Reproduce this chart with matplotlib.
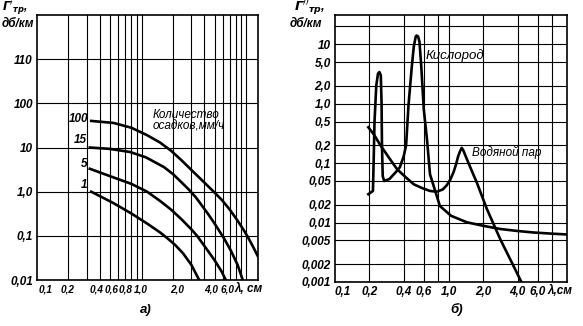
import numpy as np
import matplotlib
matplotlib.use("Agg")
import matplotlib.pyplot as plt

plt.rcParams['font.family'] = ['Liberation Sans', 'DejaVu Sans']
plt.rcParams['font.style'] = 'italic'
plt.rcParams['font.weight'] = 'bold'
plt.rcParams['mathtext.fontset'] = 'dejavusans'

# --- panel a: rain attenuation, curves for rain rate (mm/h)
rain_labels = ['100', '15', '5', '1']
lam_r100 = [0.33, 0.54, 0.8, 1.13, 1.5, 1.9, 2.4, 3.0, 4.0, 4.9, 5.9, 7.0, 8.3, 9.5, 10.4, 11.7, 13.0]
att_r100 = [40, 36, 28, 19, 13, 8.6, 5.2, 3.1, 1.6, 1.0, 0.64, 0.39, 0.22, 0.135, 0.094, 0.056, 0.034]
lam_r15 = [0.32, 0.5, 0.78, 1.1, 1.64, 2.0, 2.4, 2.8, 3.3, 3.7, 4.3, 5.0, 6.2, 7.2, 8.3, 9.3]
att_r15 = [10, 9.3, 7.9, 6.0, 3.6, 2.5, 1.65, 1.15, 0.75, 0.52, 0.32, 0.19, 0.085, 0.045, 0.022, 0.01]
lam_r5 = [0.32, 0.54, 0.8, 1.13, 1.5, 1.9, 2.4, 3.0, 3.4, 4.2, 5.0, 5.8, 6.4]
att_r5 = [3.3, 2.1, 1.5, 1.0, 0.62, 0.4, 0.24, 0.14, 0.1, 0.05, 0.028, 0.016, 0.01]
lam_r1 = [0.33, 0.54, 0.8, 1.13, 1.5, 1.77, 2.1, 2.5, 3.0, 3.56]
att_r1 = [1.0, 0.55, 0.32, 0.19, 0.12, 0.088, 0.062, 0.04, 0.022, 0.01]

a_xticks = [0.1, 0.2, 0.4, 0.6, 0.8, 1.0, 2.0, 4.0, 6.0]
a_xlabels = ['0,1', '0,2', '0,4', '0,6', '0,8', '1,0', '2,0', '4,0', '6,0']
a_yticks = [0.01, 0.1, 1, 10, 100, 1000]
a_ylabels = ['0,01', '0,1', '1,0', '10', '100', '110']

# --- panel b: oxygen and water vapour
lam_o2 = [0.196, 0.215, 0.218, 0.222, 0.23, 0.238, 0.245, 0.252, 0.256, 0.258, 0.262,
          0.27, 0.3, 0.34, 0.37, 0.4, 0.42, 0.44, 0.47, 0.49, 0.51, 0.52, 0.535, 0.55,
          0.57, 0.6, 0.64, 0.68, 0.73, 0.83, 1.04, 1.43, 2.0, 2.8, 4.0, 5.5, 8.0, 10.8]
att_o2 = [0.03, 0.034, 0.1, 0.5, 2.0, 3.2, 3.4, 3.0, 1.0, 0.2, 0.06,
          0.05, 0.054, 0.07, 0.085, 0.13, 0.2, 0.9, 4.0, 9.0, 13.5, 14.0, 13.5, 11.0,
          4.3, 0.8, 0.25, 0.065, 0.042, 0.019, 0.013, 0.0101, 0.0088, 0.0078, 0.0072,
          0.0068, 0.0065, 0.0063]
lam_h2o = [0.196, 0.22, 0.25, 0.3, 0.35, 0.42, 0.49, 0.58, 0.68, 0.78, 0.88, 0.95,
           1.02, 1.09, 1.15, 1.2, 1.25, 1.29, 1.33, 1.43, 1.6, 1.75, 2.14, 2.8, 3.6, 4.3]
att_h2o = [0.4, 0.3, 0.2, 0.12, 0.079, 0.057, 0.044, 0.038, 0.034, 0.033, 0.036, 0.042,
           0.052, 0.069, 0.095, 0.13, 0.16, 0.18, 0.165, 0.117, 0.07, 0.047, 0.017,
           0.0053, 0.002, 0.001]

b_xticks = [0.1, 0.2, 0.4, 0.6, 1.0, 2.0, 4.0, 6.0]
b_xlabels = ['0,1', '0,2', '0,4', '0,6', '1,0', '2,0', '4,0', '6,0']
b_yticks = [0.001, 0.002, 0.005, 0.01, 0.02, 0.05, 0.1, 0.2, 0.5, 1, 2, 5, 10, 20]
b_ylabels = ['0,001', '0,002', '0,005', '0,01', '0,02', '0,05', '0,1', '0,2', '0,5',
             '1,0', '2,0', '5,0', '10', '']

fig = plt.figure(figsize=(5.83, 3.26), dpi=100)
ax1 = fig.add_axes([0.0635, 0.141, 0.379, 0.813])
ax2 = fig.add_axes([0.5746, 0.135, 0.398, 0.819])

fs = 8.5
lw = 1.9

# panel a
ax1.set_xscale('log')
ax1.set_yscale('log')
ax1.set_xlim(0.1, 13)
ax1.set_ylim(0.01, 1e4)
grid_a = list(np.arange(2, 10) / 10) + list(np.arange(1, 11))
for g in grid_a:
    ax1.axvline(g, color='black', lw=0.8)
for g in a_yticks:
    ax1.axhline(g, color='black', lw=0.8)
for xs, ys in [(lam_r100, att_r100), (lam_r15, att_r15), (lam_r5, att_r5), (lam_r1, att_r1)]:
    ax1.plot(xs, ys, color='black', lw=lw, solid_joinstyle='round')
ax1.set_xticks([])
ax1.set_yticks(a_yticks)
ax1.set_yticklabels(a_ylabels, fontsize=fs)
ax1.xaxis.set_minor_locator(matplotlib.ticker.NullLocator())
ax1.yaxis.set_minor_locator(matplotlib.ticker.NullLocator())
ax1.tick_params(length=0, pad=3)
# crowded x labels, placed by hand around their ticks (ha, shift in points)
a_label_place = [('left', 1), ('center', -0.8), ('center', -2.4), ('center', -5.0),
                 ('center', -3.9), ('center', -0.6), ('center', 3), ('center', 4.5), ('center', 3)]
for x, lab, (ha, dx) in zip(a_xticks, a_xlabels, a_label_place):
    ax1.annotate(lab, xy=(x, 0), xycoords=('data', 'axes fraction'),
                 xytext=(dx, -3), textcoords='offset points',
                 ha=ha, va='top', fontsize=7.2)
for lab, (x, y) in zip(rain_labels, [(0.31, 44), (0.30, 15), (0.30, 4.3), (0.30, 1.4)]):
    ax1.text(x, y, lab, ha='right', va='center', fontsize=fs)
ax1.text(1.28, 75, 'Количество\nосадков,мм/ч', ha='left', va='top',
         fontsize=fs, linespacing=1.0, weight='normal')
ax1.text(0.895, -0.012, 'λ, см', transform=ax1.transAxes, ha='left', va='top', fontsize=fs)

# panel b
ax2.set_xscale('log')
ax2.set_yscale('log')
ax2.set_xlim(0.1, 10.8)
ax2.set_ylim(0.001, 31)
for g in [0.2, 0.4, 0.6, 0.8, 1.0, 2.0, 4.0, 6.0, 8.0]:
    ax2.axvline(g, color='black', lw=0.8)
for g in b_yticks:
    ax2.axhline(g, color='black', lw=0.8)
ax2.plot(lam_o2, att_o2, color='black', lw=lw, solid_joinstyle='round')
ax2.plot(lam_h2o, att_h2o, color='black', lw=lw, solid_joinstyle='round')
ax2.set_xticks(b_xticks)
ax2.set_xticklabels(b_xlabels, fontsize=fs)
ax2.set_yticks(b_yticks)
ax2.set_yticklabels(b_ylabels, fontsize=fs)
ax2.xaxis.set_minor_locator(matplotlib.ticker.NullLocator())
ax2.yaxis.set_minor_locator(matplotlib.ticker.NullLocator())
ax2.tick_params(length=0, pad=3)
ax2.get_xticklabels()[0].set_ha('left')
ax2.text(0.62, 6.5, 'Кислород', ha='left', va='center', fontsize=fs + 1, weight='normal')
ax2.text(1.6, 0.15, 'Водяной пар', ha='left', va='center', fontsize=fs, weight='normal')
ax2.text(0.915, -0.012, 'λ,см', transform=ax2.transAxes, ha='left', va='top', fontsize=fs)

for ax in (ax1, ax2):
    for s in ax.spines.values():
        s.set_linewidth(1.2)

# axis titles and captions
fig.text(0.003, 0.975, r"$\Gamma'_{тр}$,", ha='left', va='center', fontsize=fs)
fig.text(0.003, 0.925, 'дб/км', ha='left', va='center', fontsize=fs)
fig.text(0.505, 0.975, r"$\Gamma''_{тр}$,", ha='left', va='center', fontsize=fs + 1)
fig.text(0.497, 0.925, 'дб/км', ha='left', va='center', fontsize=fs)
fig.text(0.25, 0.05, 'а)', ha='center', va='center', fontsize=fs + 1)
fig.text(0.783, 0.05, 'б)', ha='center', va='center', fontsize=fs + 1)

fig.savefig('out.png', dpi=100, facecolor='white')
